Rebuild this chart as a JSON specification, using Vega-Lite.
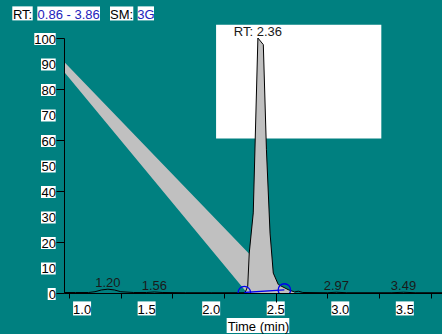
{
  "$schema": "https://vega.github.io/schema/vega-lite/v6.json",
  "width": 378,
  "height": 255,
  "autosize": {"type": "none"},
  "padding": {"left": 64, "top": 38, "right": 0, "bottom": 41},
  "background": "#008080",
  "config": {
    "view": {"stroke": null},
    "axis": {
      "grid": false,
      "labels": false,
      "domainColor": "#000000",
      "tickColor": "#000000",
      "titleFont": "Liberation Sans",
      "titleFontSize": 13,
      "titleFontWeight": "normal",
      "titleColor": "#000000"
    },
    "text": {"font": "Liberation Sans", "fontSize": 13}
  },
  "data": {"values": [{}]},
  "datasets": {
    "trace": [
      {"t": 0.86, "v": 0.2}, {"t": 0.95, "v": 0.2}, {"t": 1.05, "v": 0.2}, {"t": 1.1, "v": 0.5},
      {"t": 1.15, "v": 1.2}, {"t": 1.2, "v": 1.5}, {"t": 1.25, "v": 1.2}, {"t": 1.3, "v": 0.5},
      {"t": 1.4, "v": 0.2}, {"t": 1.5, "v": 0.2}, {"t": 1.56, "v": 0.4}, {"t": 1.62, "v": 0.2},
      {"t": 1.8, "v": 0.1}, {"t": 2.0, "v": 0.1}, {"t": 2.2, "v": 0.1}, {"t": 2.262, "v": 0.1},
      {"t": 2.283, "v": 2.6}, {"t": 2.295, "v": 15.7}, {"t": 2.326, "v": 31.4}, {"t": 2.362, "v": 100},
      {"t": 2.404, "v": 97.4}, {"t": 2.428, "v": 56.2}, {"t": 2.456, "v": 23.5}, {"t": 2.481, "v": 7.8},
      {"t": 2.52, "v": 3.3}, {"t": 2.597, "v": 1.3}, {"t": 2.645, "v": 0.4}, {"t": 2.675, "v": 0.7},
      {"t": 2.71, "v": 0.2}, {"t": 2.9, "v": 0.1}, {"t": 2.97, "v": 0.3}, {"t": 3.05, "v": 0.1},
      {"t": 3.4, "v": 0.1}, {"t": 3.49, "v": 0.3}, {"t": 3.58, "v": 0.1}, {"t": 3.788, "v": 0.1}
    ],
    "band": [
      {"t": 0.86, "top": 90.7, "bot": 86.8},
      {"t": 2.279, "top": 16.2, "bot": 0},
      {"t": 2.51, "top": 4.0, "bot": 0},
      {"t": 2.58, "top": 0.4, "bot": 0}
    ],
    "peaks": [
      {"t": 1.2, "v": 1.5, "label": "1.20"},
      {"t": 1.56, "v": 0.4, "label": "1.56"},
      {"t": 2.362, "v": 100, "label": "RT: 2.36"},
      {"t": 2.97, "v": 0.3, "label": "2.97"},
      {"t": 3.49, "v": 0.3, "label": "3.49"}
    ],
    "integration": [
      {"t": 2.257, "v": 0.2},
      {"t": 2.567, "v": 1.2}
    ],
    "xlabels": [{"t": 1.0, "label": "1.0"}, {"t": 1.5, "label": "1.5"}, {"t": 2.0, "label": "2.0"}, {"t": 2.5, "label": "2.5"}, {"t": 3.0, "label": "3.0"}, {"t": 3.5, "label": "3.5"}],
    "ylabels": [{"v": 0}, {"v": 10}, {"v": 20}, {"v": 30}, {"v": 40}, {"v": 50}, {"v": 60}, {"v": 70}, {"v": 80}, {"v": 90}, {"v": 100}]
  },
  "layer": [
    {
      "data": {"name": "band"},
      "mark": {"type": "area", "color": "#c0c0c0", "opacity": 1},
      "encoding": {
        "x": {
          "field": "t", "type": "quantitative",
          "scale": {"domain": [0.86, 3.788], "nice": false, "zero": false},
          "axis": {
            "title": "Time (min)",
            "zindex": 2,
            "values": [0.9, 1.0, 1.1, 1.2, 1.3, 1.4, 1.5, 1.6, 1.7, 1.8, 1.9, 2.0, 2.1, 2.2, 2.3, 2.4, 2.5, 2.6, 2.7, 2.8, 2.9, 3.0, 3.1, 3.2, 3.3, 3.4, 3.5, 3.6, 3.7],
            "tickSize": {"condition": {"test": "abs(datum.value*2-round(datum.value*2))<0.01", "value": 9}, "value": 5},
            "titleX": 194,
            "titleY": 37,
            "titleAlign": "center",
            "titleBaseline": "alphabetic"
          }
        },
        "y": {
          "field": "top", "type": "quantitative",
          "scale": {"domain": [0, 100], "nice": false, "zero": false},
          "axis": {
            "title": null,
            "zindex": 2,
            "values": [0, 10, 20, 30, 40, 50, 60, 70, 80, 90, 100],
            "tickSize": 8
          }
        },
        "y2": {"field": "bot"}
      }
    },
    {
      "mark": {"type": "rect", "color": "#ffffff"},
      "encoding": {
        "x": {"datum": 2.038, "type": "quantitative"},
        "x2": {"datum": 3.318},
        "y": {"datum": 105.2, "type": "quantitative"},
        "y2": {"datum": 60.6}
      }
    },
    {
      "data": {"name": "trace"},
      "transform": [{"filter": "datum.t >= 2.262 && datum.t <= 2.645"}],
      "mark": {"type": "area", "color": "#c0c0c0", "opacity": 1},
      "encoding": {
        "x": {"field": "t", "type": "quantitative"},
        "y": {"field": "v", "type": "quantitative"}
      }
    },
    {
      "data": {"name": "trace"},
      "mark": {"type": "line", "color": "#000000", "strokeWidth": 1, "clip": true},
      "encoding": {
        "x": {"field": "t", "type": "quantitative"},
        "y": {"field": "v", "type": "quantitative"}
      }
    },
    {
      "data": {"name": "integration"},
      "mark": {"type": "line", "color": "#0000ee", "strokeWidth": 1.3, "clip": true},
      "encoding": {
        "x": {"field": "t", "type": "quantitative"},
        "y": {"field": "v", "type": "quantitative"}
      }
    },
    {
      "data": {"name": "integration"},
      "mark": {"type": "point", "shape": "circle", "filled": false, "color": "#0000ee", "strokeWidth": 1.3, "size": 154, "clip": true, "opacity": 1},
      "encoding": {
        "x": {"field": "t", "type": "quantitative"},
        "y": {"field": "v", "type": "quantitative"}
      }
    },
    {
      "data": {"name": "peaks"},
      "mark": {"type": "text", "color": "#1a1a1a", "baseline": "alphabetic", "align": "center", "dy": -2},
      "encoding": {
        "x": {"field": "t", "type": "quantitative"},
        "y": {"field": "v", "type": "quantitative"},
        "text": {"field": "label"}
      }
    },
    {
      "data": {"name": "xlabels"},
      "mark": {"type": "rect", "color": "#ffffff", "width": 18},
      "encoding": {
        "x": {"field": "t", "type": "quantitative"},
        "y": {"datum": -3.3, "type": "quantitative"},
        "y2": {"datum": -8.8}
      }
    },
    {
      "data": {"name": "xlabels"},
      "mark": {"type": "text", "color": "#000000", "align": "center", "baseline": "alphabetic", "dy": 21},
      "encoding": {
        "x": {"field": "t", "type": "quantitative"},
        "y": {"datum": 0, "type": "quantitative"},
        "text": {"field": "label"}
      }
    },
    {
      "data": {"name": "ylabels"},
      "transform": [{"filter": "datum.v == 0"}],
      "mark": {"type": "rect", "color": "#ffffff", "height": 12},
      "encoding": {
        "x": {"datum": 0.7337, "type": "quantitative"},
        "x2": {"datum": 0.7957},
        "y": {"field": "v", "type": "quantitative"},
        "yOffset": {"value": 1}
      }
    },
    {
      "data": {"name": "ylabels"},
      "transform": [{"filter": "datum.v >= 10 && datum.v < 100"}],
      "mark": {"type": "rect", "color": "#ffffff", "height": 12},
      "encoding": {
        "x": {"datum": 0.682, "type": "quantitative"},
        "x2": {"datum": 0.7957},
        "y": {"field": "v", "type": "quantitative"},
        "yOffset": {"value": 1}
      }
    },
    {
      "data": {"name": "ylabels"},
      "transform": [{"filter": "datum.v == 100"}],
      "mark": {"type": "rect", "color": "#ffffff", "height": 12},
      "encoding": {
        "x": {"datum": 0.63, "type": "quantitative"},
        "x2": {"datum": 0.7957},
        "y": {"field": "v", "type": "quantitative"},
        "yOffset": {"value": 1}
      }
    },
    {
      "data": {"name": "ylabels"},
      "mark": {"type": "text", "color": "#000000", "align": "right", "baseline": "alphabetic", "dx": -8, "dy": 5.5},
      "encoding": {
        "x": {"datum": 0.86, "type": "quantitative"},
        "y": {"field": "v", "type": "quantitative"},
        "text": {"field": "v", "type": "quantitative"}
      }
    },
    {
      "mark": {"type": "rect", "color": "#ffffff"},
      "encoding": {
        "x": {"datum": 2.12, "type": "quantitative"},
        "x2": {"datum": 2.605},
        "y": {"datum": -9.8, "type": "quantitative"},
        "y2": {"datum": -15.7}
      }
    },
    {
      "mark": {"type": "rect", "color": "#ffffff"},
      "encoding": {
        "x": {"datum": 0.4595, "type": "quantitative"},
        "x2": {"datum": 0.6176},
        "y": {"datum": 112.4, "type": "quantitative"},
        "y2": {"datum": 106.9}
      }
    },
    {
      "mark": {"type": "rect", "color": "#ffffff"},
      "encoding": {
        "x": {"datum": 0.6532, "type": "quantitative"},
        "x2": {"datum": 1.1389},
        "y": {"datum": 112.4, "type": "quantitative"},
        "y2": {"datum": 106.9}
      }
    },
    {
      "mark": {"type": "rect", "color": "#ffffff"},
      "encoding": {
        "x": {"datum": 1.2163, "type": "quantitative"},
        "x2": {"datum": 1.3968},
        "y": {"datum": 112.4, "type": "quantitative"},
        "y2": {"datum": 106.9}
      }
    },
    {
      "mark": {"type": "rect", "color": "#ffffff"},
      "encoding": {
        "x": {"datum": 1.4309, "type": "quantitative"},
        "x2": {"datum": 1.5571},
        "y": {"datum": 112.4, "type": "quantitative"},
        "y2": {"datum": 106.9}
      }
    },
    {
      "mark": {"type": "text", "color": "#000000", "align": "center", "baseline": "alphabetic"},
      "encoding": {
        "x": {"datum": 0.5386, "type": "quantitative"},
        "y": {"datum": 107.45, "type": "quantitative"},
        "text": {"value": "RT:"}
      }
    },
    {
      "mark": {"type": "text", "color": "#2222bb", "align": "center", "baseline": "alphabetic"},
      "encoding": {
        "x": {"datum": 0.896, "type": "quantitative"},
        "y": {"datum": 107.45, "type": "quantitative"},
        "text": {"value": "0.86 - 3.86"}
      }
    },
    {
      "mark": {"type": "text", "color": "#000000", "align": "center", "baseline": "alphabetic"},
      "encoding": {
        "x": {"datum": 1.3066, "type": "quantitative"},
        "y": {"datum": 107.45, "type": "quantitative"},
        "text": {"value": "SM:"}
      }
    },
    {
      "mark": {"type": "text", "color": "#2222bb", "align": "center", "baseline": "alphabetic"},
      "encoding": {
        "x": {"datum": 1.494, "type": "quantitative"},
        "y": {"datum": 107.45, "type": "quantitative"},
        "text": {"value": "3G"}
      }
    }
  ]
}
